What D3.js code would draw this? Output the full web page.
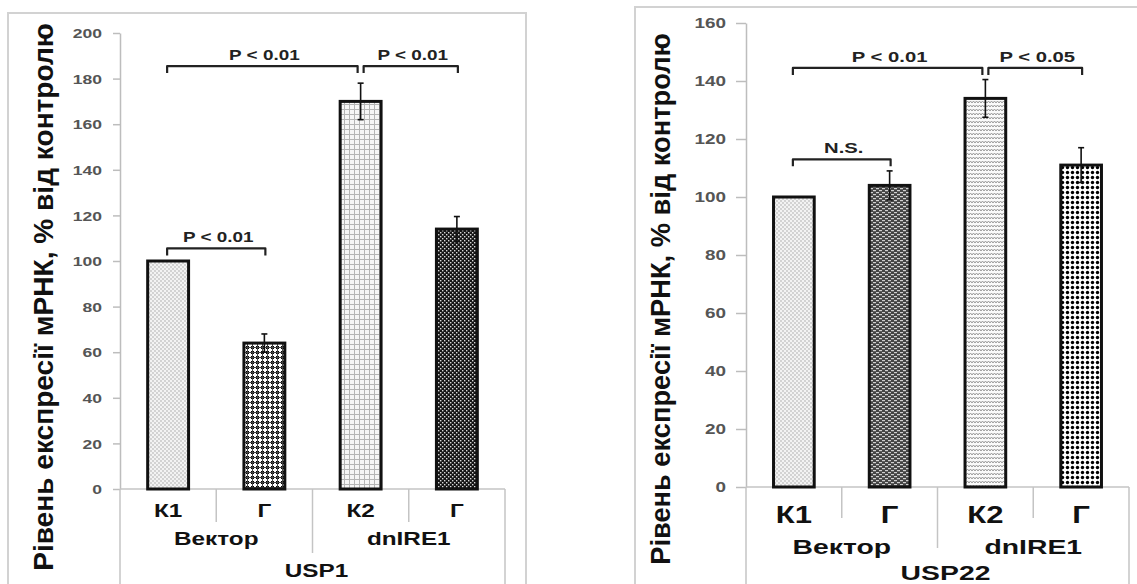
<!DOCTYPE html>
<html>
<head>
<meta charset="utf-8">
<script src="https://cdn.jsdelivr.net/npm/d3@7"></script>
<style>
  body { margin: 0; background: #fff; }
  svg { display: block; font-family: "Liberation Sans", Arial, sans-serif; }
</style>
</head>
<body>
<div class="chart"></div>
<script>
/* Data */
const categories = ["К1", "Г", "К2", "Г"];
const groups = ["Вектор", "dnIRE1"];
const yTitle = "Рівень експресії мРНК, % від контролю";

const usp1Values = [100, 64, 170, 114];
const usp1Errors = [0, 4, 8, 5.5];
const usp1Ticks = [0, 20, 40, 60, 80, 100, 120, 140, 160, 180, 200];
const usp1Brackets = [
    { from: 0, to: 2, y: 185.5, label: "P < 0.01" },
    { from: 2, to: 3, y: 185.5, label: "P < 0.01" },
    { from: 0, to: 1, y: 105.5, label: "P < 0.01" }
];

const usp22Values = [100, 104, 134, 111];
const usp22Errors = [0, 5, 6.5, 6];
const usp22Ticks = [0, 20, 40, 60, 80, 100, 120, 140, 160];
const usp22Brackets = [
    { from: 0, to: 2, y: 144.5, label: "P < 0.01" },
    { from: 2, to: 3, y: 144.5, label: "P < 0.05" },
    { from: 0, to: 1, y: 113, label: "N.S." }
];

const width = 1137;
const height = 584;
const sx = 1.35; // the figure is stretched horizontally

const svg = d3.select(".chart")
    .append("svg")
    .attr("width", width)
    .attr("height", height);

/* Patterns */
const defs = svg.append("defs");

function pattern(id, w, h, bg) {
    const p = defs.append("pattern")
        .attr("id", id)
        .attr("patternUnits", "userSpaceOnUse")
        .attr("width", w)
        .attr("height", h);
    p.append("rect").attr("width", w).attr("height", h).attr("fill", bg);
    return p;
}

// light dots
let p = pattern("dotsLight", 4, 4, "#f3f3f3");
p.append("circle").attr("cx", 1).attr("cy", 1).attr("r", 0.9).attr("fill", "#c4c4c4");
p.append("circle").attr("cx", 3).attr("cy", 3).attr("r", 0.9).attr("fill", "#c4c4c4");

// black gingham
p = pattern("gingham", 5, 5, "#fff");
p.append("rect").attr("x", 1).attr("y", 1).attr("width", 3).attr("height", 3).attr("fill", "#000");
p.append("rect").attr("x", 0).attr("y", 2).attr("width", 5).attr("height", 1).attr("fill", "#444");
p.append("rect").attr("x", 2).attr("y", 0).attr("width", 1).attr("height", 5).attr("fill", "#444");

// light grid
p = pattern("gridLight", 5, 5, "#f6f6f6");
p.append("rect").attr("x", 0).attr("y", 4).attr("width", 5).attr("height", 1).attr("fill", "#b5b5b5");
p.append("rect").attr("x", 4).attr("y", 0).attr("width", 1).attr("height", 5).attr("fill", "#b5b5b5");

// dark weave
p = pattern("weaveDark", 4, 4, "#151515");
p.append("rect").attr("x", 0).attr("y", 0).attr("width", 1.4).attr("height", 1.4).attr("fill", "#d8d8d8");
p.append("rect").attr("x", 2).attr("y", 2).attr("width", 1.4).attr("height", 1.4).attr("fill", "#d8d8d8");

// dark brick
p = pattern("brickDark", 6, 4, "#444");
p.append("rect").attr("x", 0).attr("y", 0).attr("width", 3).attr("height", 1.2).attr("fill", "#d0d0d0");
p.append("rect").attr("x", 3).attr("y", 2).attr("width", 3).attr("height", 1.2).attr("fill", "#d0d0d0");

// light zigzag
p = pattern("zigzag", 6, 4, "#fafafa");
p.append("path").attr("d", "M0,3 L1.5,1 L3,3 L4.5,1 L6,3")
    .attr("fill", "none").attr("stroke", "#9a9a9a").attr("stroke-width", 1);

// black dots
p = pattern("dotsBlack", 5, 5, "#fff");
p.append("circle").attr("cx", 2.5).attr("cy", 2.5).attr("r", 1.7).attr("fill", "#000");

const usp1Fills = ["dotsLight", "gingham", "gridLight", "weaveDark"];
const usp22Fills = ["dotsLight", "brickDark", "zigzag", "dotsBlack"];

function stretchedText(g, x, y, txt, size, color) {
    return g.append("text")
        .attr("transform", `translate(${x},${y}) scale(${sx},1)`)
        .attr("text-anchor", "middle")
        .attr("dominant-baseline", "central")
        .style("font-size", size + "px")
        .style("font-weight", "bold")
        .style("fill", color)
        .text(txt);
}

function drawPanel(cfg) {
    const g = svg.append("g");

    // frame
    g.append("rect")
        .attr("x", cfg.frame[0]).attr("y", cfg.frame[1])
        .attr("width", cfg.frame[2]).attr("height", cfg.frame[3])
        .attr("fill", "#fff")
        .attr("stroke", "#d2d2d2")
        .attr("stroke-width", 2);

    /* Scales */
    const xScale = d3.scaleBand()
        .domain(d3.range(cfg.values.length))
        .range([cfg.left, cfg.right]);
    const yScale = d3.scaleLinear()
        .domain([0, d3.max(cfg.ticks)])
        .range([cfg.bottom, cfg.top]);
    const cx = i => xScale(i) + xScale.bandwidth() / 2;
    const barW = xScale.bandwidth() * 0.425;

    // y axis
    const axis = g.append("g")
        .attr("transform", `translate(${cfg.left},0)`)
        .call(d3.axisLeft(yScale).tickValues(cfg.ticks).tickSize(cfg.tickSize).tickSizeOuter(0));
    axis.select(".domain").attr("stroke", "#bdbdbd").attr("stroke-width", 1.5);
    axis.selectAll(".tick line").attr("stroke", "#bdbdbd").attr("stroke-width", 1.5);
    axis.selectAll(".tick text")
        .attr("x", 0).attr("dy", null)
        .attr("dominant-baseline", "central")
        .attr("transform", `translate(${-cfg.tickSize - cfg.tickPad},0) scale(${sx},1)`)
        .style("font-family", "'Liberation Sans', Arial, sans-serif")
        .style("font-size", cfg.tickFont + "px")
        .style("font-weight", "bold")
        .style("fill", "#555");

    // category table
    const lines = g.append("g").attr("stroke", "#c4c4c4").attr("stroke-width", 1.5);
    lines.append("line").attr("x1", cfg.left).attr("x2", cfg.right)
        .attr("y1", cfg.bottom).attr("y2", cfg.bottom);
    lines.append("line").attr("x1", cfg.left).attr("x2", cfg.left)
        .attr("y1", cfg.bottom).attr("y2", height + 5);
    lines.append("line").attr("x1", cfg.right).attr("x2", cfg.right)
        .attr("y1", cfg.bottom).attr("y2", height + 5);
    [1, 2, 3].forEach(i => {
        lines.append("line")
            .attr("x1", xScale(i)).attr("x2", xScale(i))
            .attr("y1", cfg.bottom)
            .attr("y2", cfg.bottom + (i === 2 ? cfg.sepLong : cfg.sepShort));
    });

    categories.forEach((c, i) => {
        stretchedText(g, cx(i), cfg.bottom + cfg.catDy, c, cfg.catFont, "#111");
    });
    groups.forEach((gr, j) => {
        const mid = (xScale(j * 2) + xScale(j * 2 + 1) + xScale.bandwidth()) / 2;
        stretchedText(g, mid, cfg.bottom + cfg.groupDy, gr, cfg.groupFont, "#111");
    });
    stretchedText(g, (cfg.left + cfg.right) / 2 + cfg.geneShift, cfg.bottom + cfg.geneDy, cfg.gene, cfg.groupFont, "#111");

    // bars
    g.selectAll(".bar")
        .data(cfg.values)
        .enter()
        .append("rect")
        .attr("class", "bar")
        .attr("x", (d, i) => cx(i) - barW / 2)
        .attr("y", d => yScale(d))
        .attr("width", barW)
        .attr("height", d => yScale(0) - yScale(d))
        .attr("fill", (d, i) => `url(#${cfg.fills[i]})`)
        .attr("stroke", "#111")
        .attr("stroke-width", 3);

    // error bars
    cfg.values.forEach((v, i) => {
        const e = cfg.errors[i];
        if (!e) return;
        const eg = g.append("g").attr("stroke", "#111").attr("stroke-width", 1.6);
        eg.append("line").attr("x1", cx(i)).attr("x2", cx(i))
            .attr("y1", yScale(v + e)).attr("y2", yScale(v - e));
        eg.append("line").attr("x1", cx(i) - 3).attr("x2", cx(i) + 3)
            .attr("y1", yScale(v + e)).attr("y2", yScale(v + e));
        eg.append("line").attr("x1", cx(i) - 3).attr("x2", cx(i) + 3)
            .attr("y1", yScale(v - e)).attr("y2", yScale(v - e));
    });

    // significance brackets
    cfg.brackets.forEach(b => {
        const x1 = cx(b.from) + (b.from === 2 ? 3 : -1);
        const x2 = cx(b.to) - (b.to === 2 ? 3 : -1);
        const y = yScale(b.y);
        g.append("path")
            .attr("d", `M${x1},${y + 7} L${x1},${y} L${x2},${y} L${x2},${y + 7}`)
            .attr("fill", "none")
            .attr("stroke", "#222")
            .attr("stroke-width", 2.2)
            .attr("stroke-linejoin", "round");
        stretchedText(g, (x1 + x2) / 2 + 2, y - 11, b.label, cfg.pFont, "#222");
    });

    // y title
    const title = g.append("text")
        .attr("transform", `translate(${cfg.titleX},${cfg.titleY}) rotate(-90)`)
        .attr("text-anchor", "middle")
        .attr("dominant-baseline", "central")
        .style("font-size", "28px")
        .style("font-weight", "bold")
        .style("fill", "#111")
        .text(yTitle);
    const len = title.node().getComputedTextLength();
    title.style("font-size", (28 * cfg.titleLen / len) + "px");
}

drawPanel({
    frame: [8, 13, 518, 600],
    left: 120, right: 505, top: 33, bottom: 489,
    values: usp1Values, errors: usp1Errors, ticks: usp1Ticks,
    brackets: usp1Brackets, fills: usp1Fills, gene: "USP1",
    tickSize: 7, tickPad: 11, tickFont: 13,
    sepShort: 33, sepLong: 64,
    catDy: 22, groupDy: 50, geneDy: 82, geneShift: 4,
    catFont: 18, groupFont: 18, pFont: 14,
    titleX: 43, titleY: 297, titleLen: 548
});

drawPanel({
    frame: [635, 7, 530, 610],
    left: 746, right: 1129, top: 23, bottom: 487,
    values: usp22Values, errors: usp22Errors, ticks: usp22Ticks,
    brackets: usp22Brackets, fills: usp22Fills, gene: "USP22",
    tickSize: 10, tickPad: 10, tickFont: 14,
    sepShort: 31, sepLong: 61,
    catDy: 28, groupDy: 59, geneDy: 85, geneShift: 8,
    catFont: 23, groupFont: 21, pFont: 15,
    titleX: 660, titleY: 299, titleLen: 532
});
</script>
</body>
</html>
